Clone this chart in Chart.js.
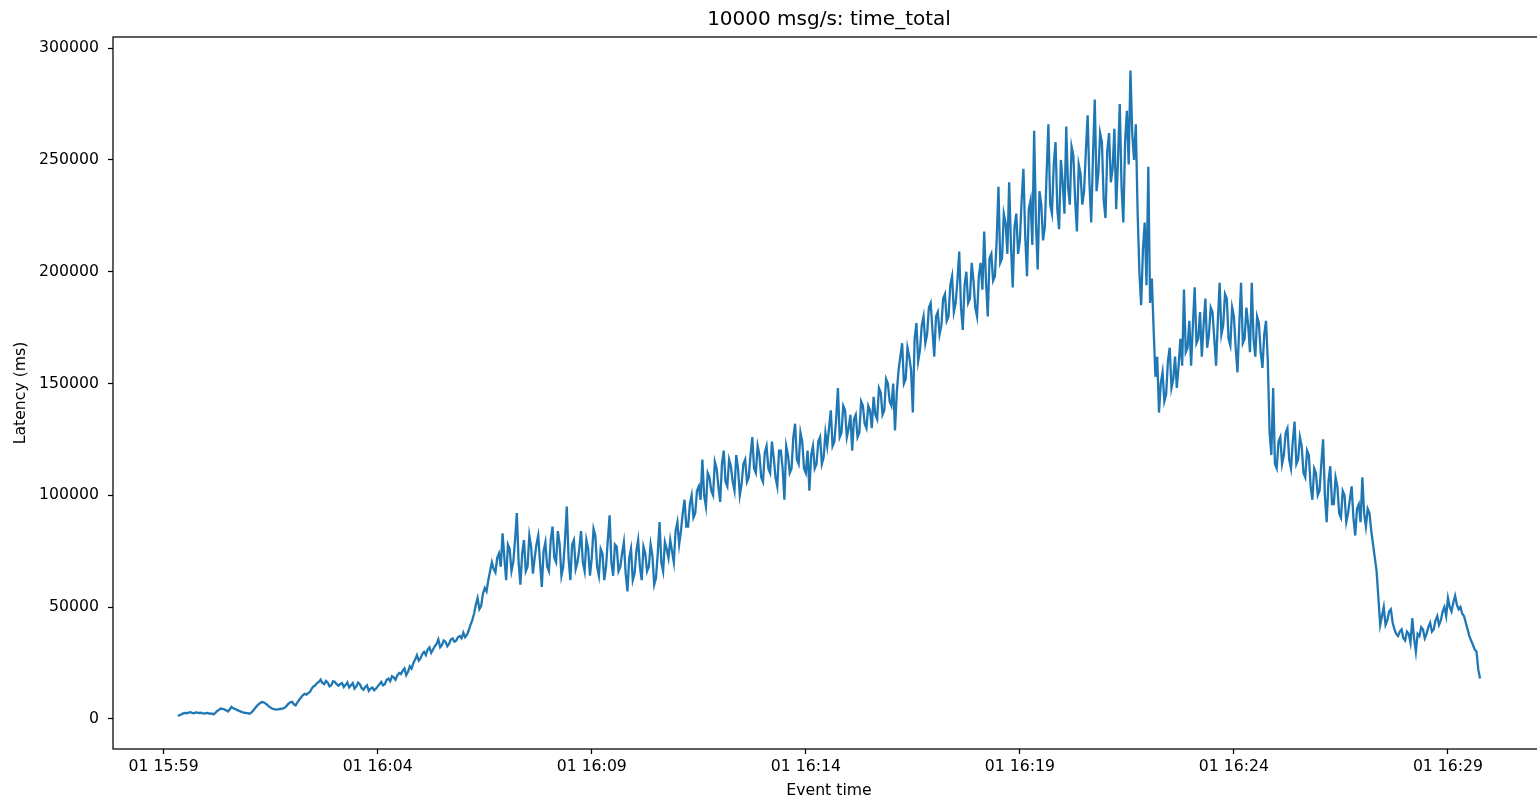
<!DOCTYPE html>
<html>
<head>
<meta charset="utf-8">
<title>10000 msg/s: time_total</title>
<script src="https://cdn.jsdelivr.net/npm/chart.js@4.4.1/dist/chart.umd.min.js"></script>
<style>
  html, body { margin: 0; padding: 0; background: #fff; overflow: hidden; }
  /* the original figure is cut off a few pixels past the right spine */
  #wrap { width: 1537px; height: 802px; overflow: hidden; }
</style>
</head>
<body>
<div id="wrap"><canvas id="myChart" width="1547" height="802"></canvas></div>
<script>
const chartTitle = '10000 msg/s: time_total';
const xLabel = 'Event time';
const yLabel = 'Latency (ms)';

// one sample every 2.5 s, first one at 01 15:59:20
const firstSample = '15:59:20';
const sampleStep = 2.5;

// latency in ms
const latency = [
  1300, 1700, 2000, 2400, 2600, 2500, 2800, 3000, 2700, 2500,
  2900, 2800, 2600, 2700, 2400, 2300, 2600, 2500, 2200, 2400,
  2000, 2600, 3500, 4000, 4600, 4400, 4200, 3800, 3300, 4200,
  5300, 4700, 4500, 4000, 3700, 3300, 3000, 2800, 2600, 2500,
  2300, 2700, 3500, 4500, 5500, 6400, 7000, 7500, 7400, 6900,
  6300, 5600, 5000, 4500, 4300, 4100, 4200, 4400, 4500, 4700,
  5000, 5900, 6800, 7400, 7600, 6500, 6000, 7400, 8500, 9500,
  10500, 11200, 10800, 11500, 12000, 13500, 14500, 15000, 16000, 16500,
  17500, 16000, 15500, 17000, 16200, 14500, 15000, 16800, 16500, 15500,
  14800, 15600, 16000, 14200, 15200, 16300, 14000, 15000, 16000, 13500,
  14500, 16200, 15500, 13800, 13000, 14200, 15000, 12500, 13500, 14000,
  12800, 13500, 14500, 15500, 16500, 15000, 15500, 17500, 18000, 16800,
  19000, 18500, 17500, 19500, 20500, 20000, 21500, 22500, 19500, 21000,
  23500, 22500, 25000, 26500, 28500, 26000, 27000, 29000, 30000, 28500,
  31000, 32000, 29500, 31000, 32500, 33500, 35500, 32000, 33000, 35000,
  34500, 32500, 33500, 35500, 36000, 34500, 35000, 36500, 37000, 36000,
  38500, 36500, 37500, 39500, 42000, 44000, 47000, 51000, 54000, 49000,
  50500, 56000, 58500, 57000, 62000, 66000, 70000, 67000, 65500, 72000,
  74000, 68000, 83000, 72000, 62000, 78000, 76000, 66000, 70000, 80000,
  92000, 70000, 60000, 74000, 80000, 66000, 68000, 82000, 77000, 65000,
  72000, 78000, 82000, 70000, 59000, 75000, 79000, 68000, 66000, 80000,
  86000, 72000, 70000, 84000, 78000, 64000, 68000, 80000, 95000, 72000,
  62000, 78000, 80000, 67000, 70000, 76000, 84000, 70000, 66000, 80000,
  76000, 64000, 72000, 85000, 82000, 68000, 64000, 76000, 74000, 62000,
  68000, 80000, 91000, 70000, 64000, 78000, 77000, 66000, 68000, 74000,
  79000, 65000, 57000, 72000, 76000, 62000, 65000, 75000, 80000, 68000,
  62000, 77000, 74000, 66000, 68000, 78000, 73000, 60000, 63000, 74000,
  88000, 70000, 66000, 79000, 76000, 72000, 80000, 75000, 70000, 84000,
  88000, 78000, 84000, 92000, 98000, 86000, 86000, 96000, 100000, 90000,
  92000, 102000, 104000, 98000, 116000, 100000, 95000, 110000, 108000, 102000,
  100000, 115000, 112000, 104000, 97000, 114000, 120000, 106000, 104000, 116000,
  113000, 106000, 102000, 118000, 112000, 100000, 105000, 114000, 116000, 106000,
  108000, 118000, 126000, 112000, 110000, 122000, 118000, 108000, 106000, 119000,
  122000, 112000, 110000, 124000, 117000, 108000, 104000, 120000, 120000, 112000,
  98000, 122000, 118000, 110000, 112000, 126000, 132000, 116000, 114000, 128000,
  124000, 112000, 110000, 120000, 102000, 118000, 122000, 112000, 114000, 124000,
  126000, 114000, 117000, 128000, 122000, 130000, 138000, 122000, 124000, 134000,
  148000, 126000, 128000, 140000, 138000, 126000, 130000, 136000, 120000, 134000,
  136000, 126000, 128000, 142000, 140000, 132000, 130000, 140000, 138000, 130000,
  144000, 136000, 134000, 148000, 146000, 136000, 138000, 152000, 150000, 142000,
  140000, 150000, 129000, 146000, 156000, 162000, 168000, 150000, 152000, 166000,
  162000, 156000, 137000, 170000, 177000, 160000, 165000, 176000, 180000, 168000,
  172000, 184000, 186000, 174000, 162000, 180000, 182000, 172000, 176000, 188000,
  190000, 178000, 180000, 194000, 198000, 182000, 186000, 196000, 209000, 184000,
  174000, 194000, 200000, 186000, 188000, 204000, 196000, 184000, 180000, 198000,
  204000, 192000, 218000, 196000, 180000, 206000, 208000, 196000, 198000, 214000,
  238000, 204000, 206000, 226000, 222000, 208000, 240000, 212000, 193000, 220000,
  226000, 208000, 214000, 232000, 246000, 216000, 198000, 228000, 232000, 212000,
  263000, 222000, 201000, 236000, 230000, 214000, 220000, 244000, 266000, 230000,
  226000, 248000, 258000, 228000, 219000, 250000, 240000, 226000, 265000, 238000,
  230000, 256000, 252000, 232000, 218000, 248000, 244000, 230000, 236000, 254000,
  270000, 240000, 222000, 252000, 277000, 236000, 244000, 262000, 258000, 232000,
  224000, 254000, 262000, 240000, 246000, 264000, 228000, 250000, 275000, 238000,
  222000, 258000, 272000, 248000, 290000, 262000, 250000, 266000, 227000, 200000,
  185000, 210000, 222000, 194000, 247000, 186000, 197000, 174000, 153000, 162000,
  137000, 150000, 155000, 142000, 145000, 160000, 166000, 148000, 152000, 162000,
  148000, 158000, 170000, 158000, 192000, 164000, 166000, 178000, 158000, 176000,
  193000, 168000, 170000, 182000, 162000, 176000, 188000, 166000, 172000, 184000,
  182000, 170000, 158000, 178000, 195000, 172000, 176000, 190000, 188000, 170000,
  167000, 184000, 180000, 166000, 155000, 176000, 195000, 168000, 170000, 184000,
  176000, 164000, 195000, 170000, 162000, 180000, 177000, 164000, 157000, 172000,
  178000, 160000, 128000, 118000, 148000, 114000, 112000, 124000, 126000, 114000,
  118000, 128000, 130000, 116000, 112000, 124000, 133000, 114000, 116000, 126000,
  122000, 110000, 108000, 120000, 118000, 104000, 98000, 112000, 110000, 100000,
  102000, 114000, 125000, 100000, 88000, 106000, 113000, 96000, 96000, 108000,
  104000, 92000, 90000, 102000, 100000, 88000, 92000, 98000, 104000, 90000,
  82000, 94000, 96000, 88000, 108000, 92000, 86000, 94000, 92000, 84000,
  78000, 72000, 66000, 54000, 42000, 46000, 50000, 42000, 44000, 48000,
  49000, 43000, 40000, 38000, 37000, 39000, 40000, 36000, 35000, 39000,
  38000, 34000, 45000, 36000, 30000, 38000, 37000, 41000, 40000, 36000,
  38000, 41000, 43000, 39000, 40000, 44000, 46000, 42000, 44000, 48000,
  50000, 46000, 54000, 50000, 48000, 52000, 55000, 51000, 49000, 50000,
  47000, 46000, 43000, 40000, 37000, 35000, 33000, 31000, 30000, 22000,
  18000
];

const xTickLabels = ['01 15:59', '01 16:04', '01 16:09', '01 16:14', '01 16:19', '01 16:24', '01 16:29'];
const yTicks = [0, 50000, 100000, 150000, 200000, 250000, 300000];

// "15:59:20" or "01 15:59" -> seconds since midnight
function toSeconds(str) {
  const hms = str.split(' ').pop().split(':').map(Number);
  return hms[0] * 3600 + hms[1] * 60 + (hms[2] || 0);
}

const start = toSeconds(firstSample);
const points = latency.map((v, i) => ({ x: start + i * sampleStep, y: v }));
const xTickValues = xTickLabels.map(toSeconds);

const font = { family: 'DejaVu Sans', size: 15.7 };

// matplotlib style box around the plot, title centred over the axes
const frame = {
  id: 'frame',
  afterLayout(chart) {
    const t = chart.titleBlock;
    if (t) {
      t.left = chart.chartArea.left;
      t.right = chart.chartArea.right;
      t.width = t.right - t.left;
    }
  },
  afterDraw(chart) {
    const a = chart.chartArea;
    const ctx = chart.ctx;
    ctx.save();
    ctx.strokeStyle = '#000';
    ctx.lineWidth = 1.25;
    ctx.strokeRect(a.left, a.top, a.right - a.left, a.bottom - a.top);
    ctx.restore();
  }
};

new Chart(document.getElementById('myChart'), {
  type: 'line',
  data: {
    datasets: [{
      data: points,
      borderColor: '#1f77b4',
      borderWidth: 2.3,
      pointRadius: 0,
      tension: 0,
      fill: false
    }]
  },
  options: {
    responsive: false,
    animation: false,
    layout: { padding: { left: 0, right: 2, top: 0, bottom: 0 } },
    plugins: {
      legend: { display: false },
      tooltip: { enabled: false },
      title: {
        display: true,
        text: chartTitle,
        color: '#000',
        font: { family: 'DejaVu Sans', size: 20, weight: 'normal' },
        padding: { top: 8, bottom: 5 }
      }
    },
    scales: {
      x: {
        type: 'linear',
        min: toSeconds('15:57:49'),
        max: toSeconds('16:31:16'),
        afterBuildTicks: s => { s.ticks = xTickValues.map(v => ({ value: v })); },
        afterFit: s => { s.height = 53; },
        ticks: {
          color: '#000',
          font: font,
          padding: 4,
          maxRotation: 0,
          callback: v => xTickLabels[xTickValues.indexOf(v)]
        },
        grid: { drawOnChartArea: false, drawTicks: true, tickLength: 5, tickColor: '#000', tickWidth: 1.25 },
        border: { display: false },
        title: { display: true, text: xLabel, color: '#000', font: font, padding: { top: 0, bottom: 2 } }
      },
      y: {
        min: -13500,
        max: 305000,
        afterBuildTicks: s => { s.ticks = yTicks.map(v => ({ value: v })); },
        afterFit: s => { s.width = 113; },
        ticks: {
          color: '#000',
          font: font,
          padding: 9,
          callback: v => String(v)
        },
        grid: { drawOnChartArea: false, drawTicks: true, tickLength: 5, tickColor: '#000', tickWidth: 1.25 },
        border: { display: false },
        title: { display: true, text: yLabel, color: '#000', font: font, padding: { top: 12, bottom: 0 } }
      }
    }
  },
  plugins: [frame]
});
</script>
</body>
</html>
